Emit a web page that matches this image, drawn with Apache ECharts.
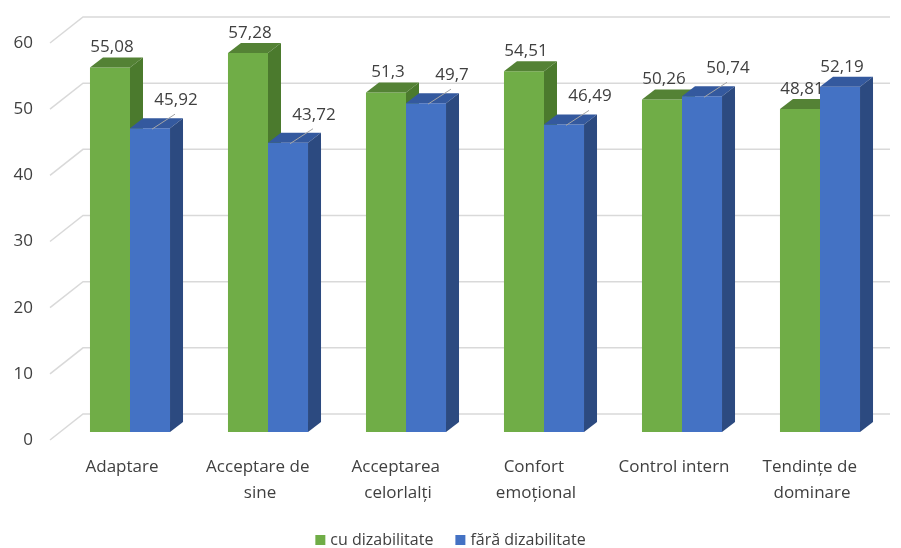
<!DOCTYPE html>
<html>
<head>
<meta charset="utf-8">
<script src="https://cdn.jsdelivr.net/npm/echarts@6/dist/echarts.min.js"></script>
<style>html,body{margin:0;padding:0;background:#fff}#c{width:901px;height:548px}</style>
</head>
<body>
<div id="c"></div>
<script>
const categories = ['Adaptare', 'Acceptare de sine', 'Acceptarea celorlalți', 'Confort emoțional', 'Control intern', 'Tendințe de dominare'];
const cuDizabilitate = [55.08, 57.28, 51.3, 54.51, 50.26, 48.81];
const faraDizabilitate = [45.92, 43.72, 49.7, 46.49, 50.74, 52.19];
const yTicks = [0, 10, 20, 30, 40, 50, 60];
const seriesNames = ['cu dizabilitate', 'fără dizabilitate'];

const FONT = '"Open Sans", "Noto Sans", sans-serif';
const TXT = '#404040';
const DX = 13, DY = -10;        // bar depth
const SX = 8, SY = -8;          // bar plane offset from front plane
const faces = [
  { front: '#70AD47', top: '#548235', side: '#4B7A2D' },
  { front: '#4472C4', top: '#34599E', side: '#2C4A80' }
];
const fmt = v => String(v).replace('.', ',');

function barRender(sIdx) {
  return function (params, api) {
    const i = api.value(0), v = api.value(1);
    const c = api.coord([i, 0]);
    const t = api.coord([i, v]);
    const bw = api.size([1, 0])[0] * 0.29;
    const cx = c[0] + SX;
    const x0 = sIdx === 0 ? cx - bw : cx;
    const x1 = x0 + bw;
    const yb = c[1] + SY, yt = t[1] + SY;
    const f = faces[sIdx];
    const fc = (x0 + x1) / 2;
    const children = [
      { type: 'rect', shape: { x: x0, y: yt, width: bw, height: yb - yt }, style: { fill: f.front } },
      { type: 'polygon', shape: { points: [[x0, yt], [x0 + DX, yt + DY], [x1 + DX, yt + DY], [x1, yt]] }, style: { fill: f.top } },
      { type: 'polygon', shape: { points: [[x1, yt], [x1 + DX, yt + DY], [x1 + DX, yb + DY], [x1, yb]] }, style: { fill: f.side } }
    ];
    let lx = fc + 2, ly = yt - 20;
    if (sIdx === 1 && v < cuDizabilitate[i] + 1) {
      lx = fc + 26; ly = yt - 28;
      children.push({ type: 'line', shape: { x1: fc + 2, y1: yt + 1, x2: fc + 25, y2: yt - 14 }, style: { stroke: '#A6A6A6', lineWidth: 1 } });
    }
    children.push({ type: 'text', x: lx, y: ly, style: { text: fmt(v), fill: TXT, font: '17px ' + FONT, align: 'center', verticalAlign: 'middle' } });
    return { type: 'group', children };
  };
}

const chart = echarts.init(document.getElementById('c'));
chart.setOption({
  animation: false,
  backgroundColor: '#fff',
  grid: { left: 53, right: 20, top: 43, bottom: 108 },
  xAxis: {
    type: 'category', data: categories,
    axisLine: { show: false }, axisTick: { show: false }, splitLine: { show: false },
    axisLabel: { color: TXT, fontSize: 17, fontFamily: FONT, margin: 14, lineHeight: 26, width: 125, overflow: 'break', interval: 0 }
  },
  yAxis: {
    type: 'value', min: 0, max: 60, interval: 10,
    axisLine: { show: false }, axisTick: { show: false }, splitLine: { show: false },
    axisLabel: { color: TXT, fontSize: 17, fontFamily: FONT, margin: 20, padding: [4, 0, 0, 0] }
  },
  legend: {
    data: seriesNames, top: 527, left: 'center', icon: 'rect', itemWidth: 10, itemHeight: 10, itemGap: 22,
    textStyle: { color: TXT, fontSize: 16, fontFamily: FONT }
  },
  series: [
    {
      type: 'custom', name: 'grid', silent: true, z: 1,
      data: yTicks.map(v => [0, v]),
      renderItem: function (params, api) {
        const y = api.coord([0, api.value(1)])[1];
        const cs = params.coordSys;
        const xl = cs.x - 3;
        return { type: 'polyline', shape: { points: [[xl, y], [xl + 33, y - 26], [cs.x + cs.width + 9, y - 26]] }, style: { stroke: '#D9D9D9', lineWidth: 1.5, fill: null } };
      }
    },
    {
      type: 'custom', name: seriesNames[0], z: 2, itemStyle: { color: faces[0].front },
      data: cuDizabilitate.map((v, i) => [i, v]), renderItem: barRender(0)
    },
    {
      type: 'custom', name: seriesNames[1], z: 3, itemStyle: { color: faces[1].front },
      data: faraDizabilitate.map((v, i) => [i, v]), renderItem: barRender(1)
    }
  ]
});
</script>
</body>
</html>
